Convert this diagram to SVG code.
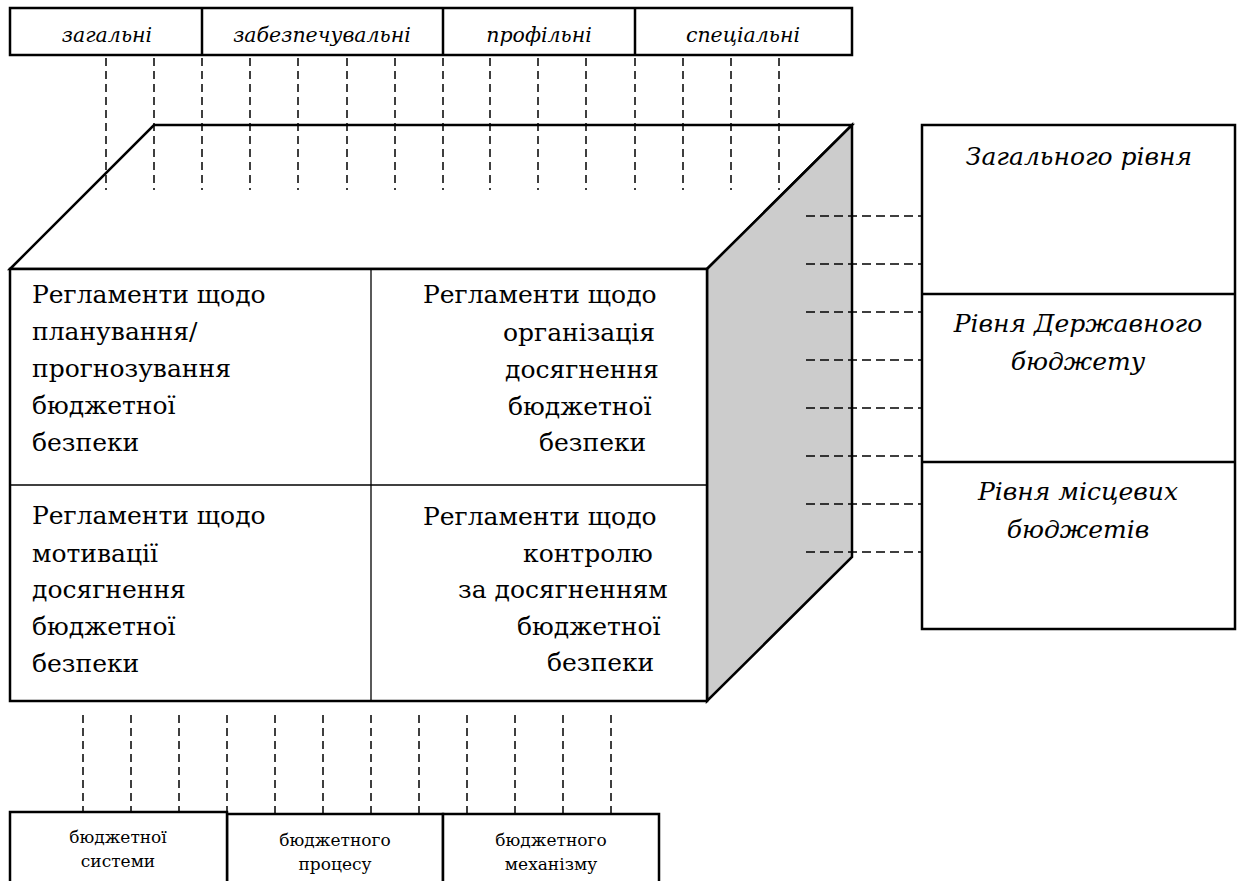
<svg xmlns="http://www.w3.org/2000/svg" width="1239" height="881" viewBox="0 0 1239 881">
<style>
.box{fill:#fff;stroke:#000;stroke-width:2.5}
.thin{stroke:#000;stroke-width:1.3;fill:none}
.dash{stroke:#000;stroke-width:1.5;stroke-dasharray:8 5;fill:none}
.hdash{stroke:#000;stroke-width:1.5;stroke-dasharray:9 5;stroke-dashoffset:11;fill:none}
.f{font-family:"DejaVu Serif",serif;fill:#000}
.top{font-size:20.5px}
.big{font-size:25px}
.lv{font-size:25px}
.sm{font-size:17px}
</style>
<rect width="1239" height="881" fill="#fff"/>
<g id="cube">
<polygon class="box" points="10,269 154,125 852,125 707,269"/>
<polygon class="box" points="707,269 852,125 852,557 707,701" style="fill:#cccccc"/>
<rect class="box" x="10" y="269" width="697" height="432"/>
<line class="thin" x1="371" y1="269" x2="371" y2="701"/>
<line class="thin" x1="10" y1="485" x2="707" y2="485"/>
</g>
<g id="cell-tl" class="f big">
<text x="32" y="303">Регламенти щодо</text>
<text x="32" y="340">планування/</text>
<text x="32" y="377">прогнозування</text>
<text x="32" y="414">бюджетної</text>
<text x="32" y="451">безпеки</text>
</g>
<g id="cell-tr" class="f big">
<text x="423" y="303">Регламенти щодо</text>
<text x="503" y="341">організація</text>
<text x="505" y="378">досягнення</text>
<text x="508" y="415">бюджетної</text>
<text x="539" y="451">безпеки</text>
</g>
<g id="cell-bl" class="f big">
<text x="32" y="524">Регламенти щодо</text>
<text x="32" y="562">мотивації</text>
<text x="32" y="598">досягнення</text>
<text x="32" y="635">бюджетної</text>
<text x="32" y="672">безпеки</text>
</g>
<g id="cell-br" class="f big">
<text x="423" y="525">Регламенти щодо</text>
<text x="523" y="562">контролю</text>
<text x="458" y="598">за досягненням</text>
<text x="517" y="635">бюджетної</text>
<text x="547" y="671">безпеки</text>
</g>
<g id="top-bar">
<rect class="box" x="10" y="8" width="842" height="47"/>
<line class="box" x1="202" y1="8" x2="202" y2="55"/>
<line class="box" x1="443" y1="8" x2="443" y2="55"/>
<line class="box" x1="635" y1="8" x2="635" y2="55"/>
<g class="f top" text-anchor="middle" font-style="italic">
<text x="107" y="42">загальні</text>
<text x="322" y="42">забезпечувальні</text>
<text x="539" y="42">профільні</text>
<text x="743" y="42">спеціальні</text>
</g>
</g>
<g id="levels">
<rect class="box" x="922" y="125" width="313" height="504"/>
<line class="box" x1="922" y1="294" x2="1235" y2="294"/>
<line class="box" x1="922" y1="462" x2="1235" y2="462"/>
<g class="f lv" text-anchor="middle" font-style="italic">
<text x="1079" y="165">Загального рівня</text>
<text x="1078" y="332">Рівня Державного</text>
<text x="1078" y="370">бюджету</text>
<text x="1078" y="500">Рівня місцевих</text>
<text x="1078" y="538">бюджетів</text>
</g>
</g>
<g id="bottom-boxes">
<rect class="box" x="227" y="814" width="216" height="80"/>
<rect class="box" x="443" y="814" width="216" height="80"/>
<rect class="box" x="10" y="812" width="217" height="82"/>
<g class="f sm" text-anchor="middle">
<text x="118" y="843">бюджетної</text>
<text x="118" y="867">системи</text>
<text x="335" y="846">бюджетного</text>
<text x="335" y="870">процесу</text>
<text x="551" y="846">бюджетного</text>
<text x="551" y="870">механізму</text>
</g>
</g>
<g id="connectors">
<path class="dash" d="M106 58V190M154 58V190M202 58V190M250 58V190M298 58V190M347 58V190M395 58V190M443 58V190M490 58V190M538 58V190M586 58V190M635 58V190M683 58V190M731 58V190M779 58V190"/>
<path class="hdash" d="M803 216H922M803 264H922M803 312H922M803 360H922M803 408H922M803 456H922M803 504H922M803 552H922"/>
<path class="dash" d="M83 715V811M131 715V811M179 715V811M227 715V813M275 715V813M323 715V813M371 715V813M419 715V813M467 715V813M515 715V813M563 715V813M611 715V813"/>
</g>
</svg>
